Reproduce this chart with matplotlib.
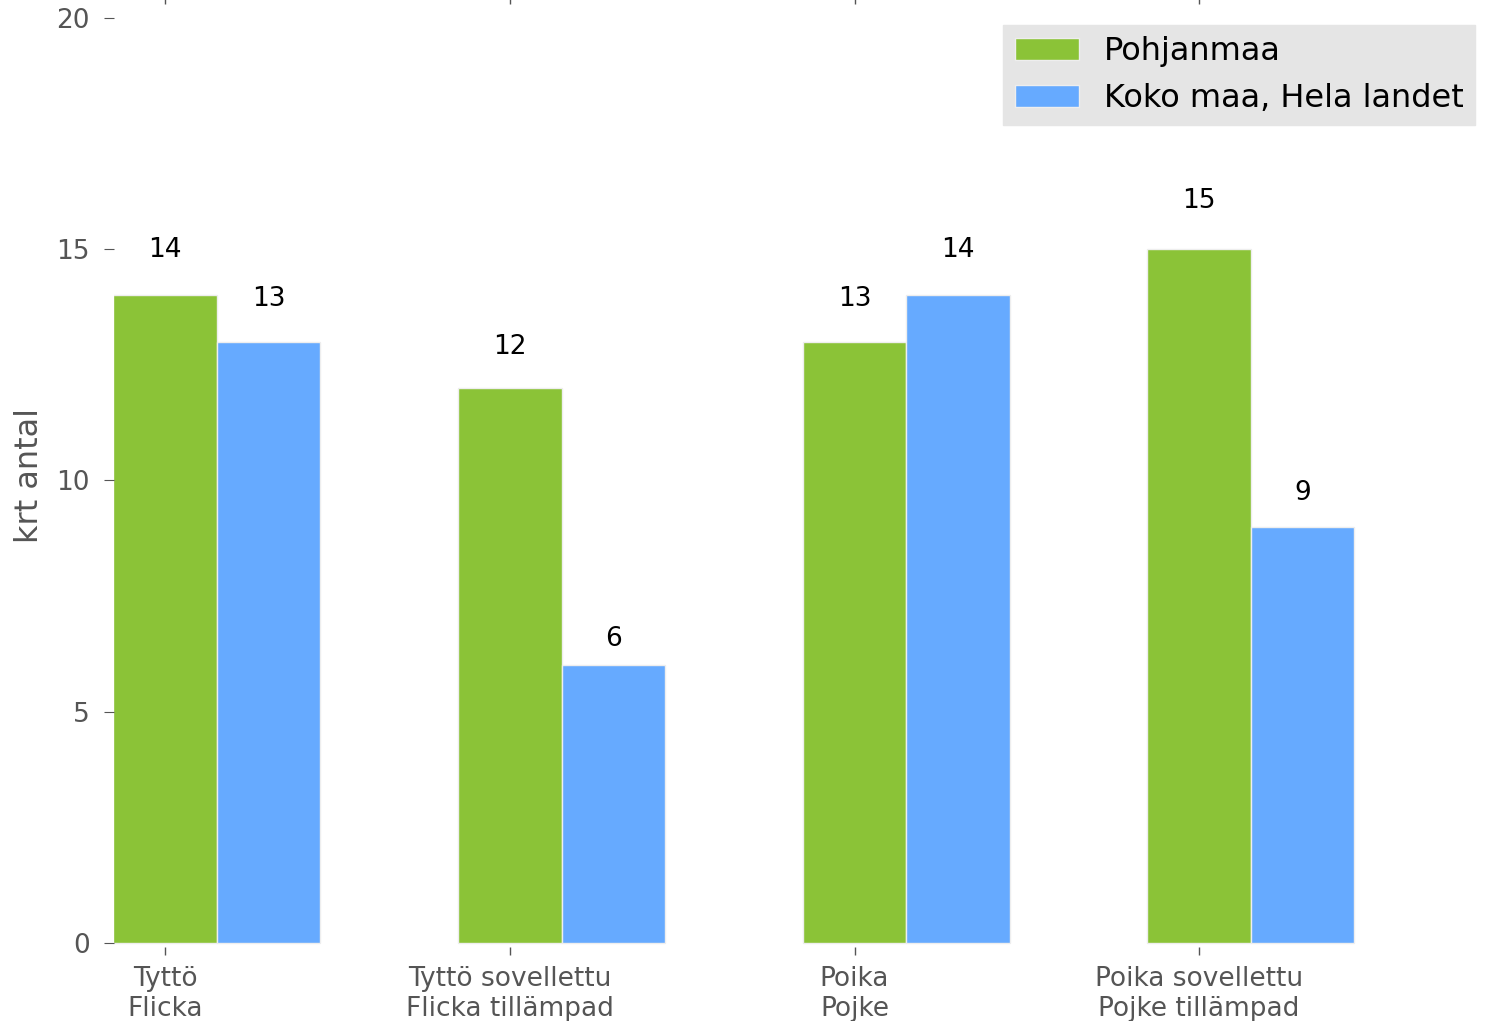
import matplotlib
matplotlib.use("Agg")
import matplotlib.pyplot as plt
import numpy as np

# data
categories = ["Tyttö\nFlicka", "Tyttö sovellettu\nFlicka tillämpad",
              "Poika\nPojke", "Poika sovellettu\nPojke tillämpad"]
series_names = ["Pohjanmaa", "Koko maa, Hela landet"]
pohjanmaa = [14, 12, 13, 15]
koko_maa = [13, 6, 14, 9]
y_ticks = [0, 5, 10, 15, 20]

GREEN = "#8BC337"
BLUE = "#66AAFF"
GREY = "#555555"

W, H = 1488, 1021
fig = plt.figure(figsize=(W / 100, H / 100), dpi=100)
# axes box in pixels: left 113.5, right 1488, bottom 947, top 4
ax = fig.add_axes([113.5 / W, 1 - 947 / H, (1488 - 113.5) / W, (947 - 4) / H])

x = np.arange(len(categories))
width = 0.3
b1 = ax.bar(x, pohjanmaa, width, color=GREEN, edgecolor="#EEEEEE", linewidth=1,
            label=series_names[0])
b2 = ax.bar(x + width, koko_maa, width, color=BLUE, edgecolor="#EEEEEE", linewidth=1,
            label=series_names[1])

# value labels above bars
for bars in (b1, b2):
    for p in bars:
        h = p.get_height()
        ax.text(p.get_x() + p.get_width() / 2, 1.05 * h, "%d" % h,
                ha="center", va="bottom", fontsize=19, color="black")

ax.set_xlim(-0.15, 3.838)
ax.set_ylim(-0.086, 20.30)
ax.set_xticks(x)
ax.set_xticklabels(categories)
ax.set_yticks(y_ticks)

for s in ax.spines.values():
    s.set_visible(False)

ax.tick_params(axis="x", direction="out", length=6, width=1, color=GREY,
               labelcolor=GREY, labelsize=19, pad=8, top=True)
ax.tick_params(axis="y", direction="out", length=7, width=0.8, color=GREY,
               labelcolor=GREY, labelsize=19, pad=10)

ax.set_ylabel("krt antal", fontsize=23, color=GREY, labelpad=8)

leg = ax.legend(loc="upper right", bbox_to_anchor=(1475 / W, 1 - 25 / H),
                bbox_transform=fig.transFigure, borderaxespad=0,
                fontsize=23, frameon=True, fancybox=False, borderpad=0.35)
leg.get_frame().set_facecolor("#E5E5E5")
leg.get_frame().set_edgecolor("#E5E5E5")
leg.get_frame().set_alpha(1)

fig.savefig("out.png", dpi=100)
